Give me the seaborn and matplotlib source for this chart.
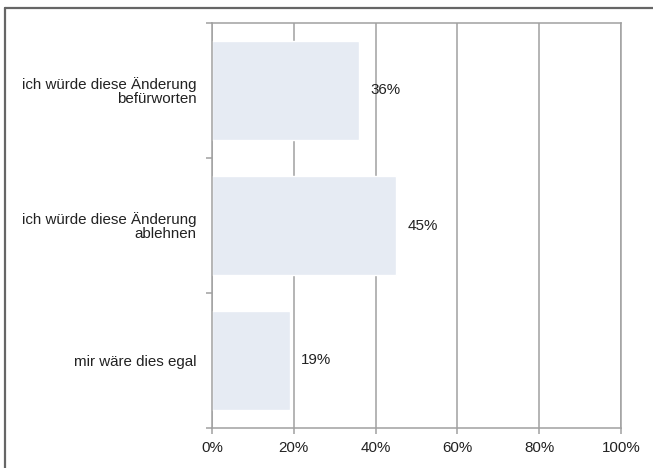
import matplotlib
matplotlib.use('Agg')
import matplotlib.pyplot as plt
from matplotlib.lines import Line2D
from matplotlib.ticker import FixedLocator
import seaborn as sns
import pandas as pd

categories = ['ich würde diese Änderung\nbefürworten',
              'ich würde diese Änderung\nablehnen',
              'mir wäre dies egal']
values = [36, 45, 19]
value_labels = ['36%', '45%', '19%']
x_ticks = [0, 20, 40, 60, 80, 100]
x_tick_labels = ['0%', '20%', '40%', '60%', '80%', '100%']

sns.set_style('white')
plt.rcParams['font.family'] = ['Liberation Sans', 'DejaVu Sans']

df = pd.DataFrame({'kategorie': categories, 'anteil': values})

fig = plt.figure(figsize=(6.53, 4.68), dpi=100)
ax = fig.add_axes([212/653, 1 - 428/468, (621 - 212)/653, (428 - 23)/468])

grey = '#a0a0a0'
fs = 10.9
ax.set_axisbelow(True)
ax.xaxis.grid(True, color=grey, linewidth=1.1)
ax.yaxis.grid(False)

sns.barplot(data=df, y='kategorie', x='anteil', orient='h', color='#e6ebf3',
            saturation=1, width=0.73, ax=ax)

for i, lab in enumerate(value_labels):
    ax.annotate(lab, (values[i], i), xytext=(8, 0), textcoords='offset points',
                va='center', ha='left', fontsize=fs, color='#222222')

ax.set_xlim(0, 100)
ax.set_ylim(2.5, -0.5)
ax.set_xticks(x_ticks)
ax.set_xticklabels(x_tick_labels, fontsize=fs, color='#222222')
ax.set_yticks(range(len(categories)))
ax.set_yticklabels(categories, fontsize=fs, color='#222222', linespacing=1.0)
ax.yaxis.set_minor_locator(FixedLocator([-0.5, 0.5, 1.5, 2.5]))
ax.tick_params(axis='y', which='major', length=0, pad=11)
ax.tick_params(axis='y', which='minor', length=4, color=grey, width=1.1, left=True)
ax.tick_params(axis='x', which='major', length=4, color=grey, width=1.1, bottom=True, pad=5)
ax.set_xlabel('')
ax.set_ylabel('')

for s in ['left', 'bottom', 'top', 'right']:
    ax.spines[s].set_visible(True)
    ax.spines[s].set_color(grey)
    ax.spines[s].set_linewidth(1.1)

# partial outer frame (top and left edges)
fig.add_artist(Line2D([5/653, 5/653], [0, 1 - 8/468], color='#666666', linewidth=1.6,
                      transform=fig.transFigure))
fig.add_artist(Line2D([5/653, 1], [1 - 8/468, 1 - 8/468], color='#666666', linewidth=1.6,
                      transform=fig.transFigure))

fig.savefig('out.png', dpi=100)
